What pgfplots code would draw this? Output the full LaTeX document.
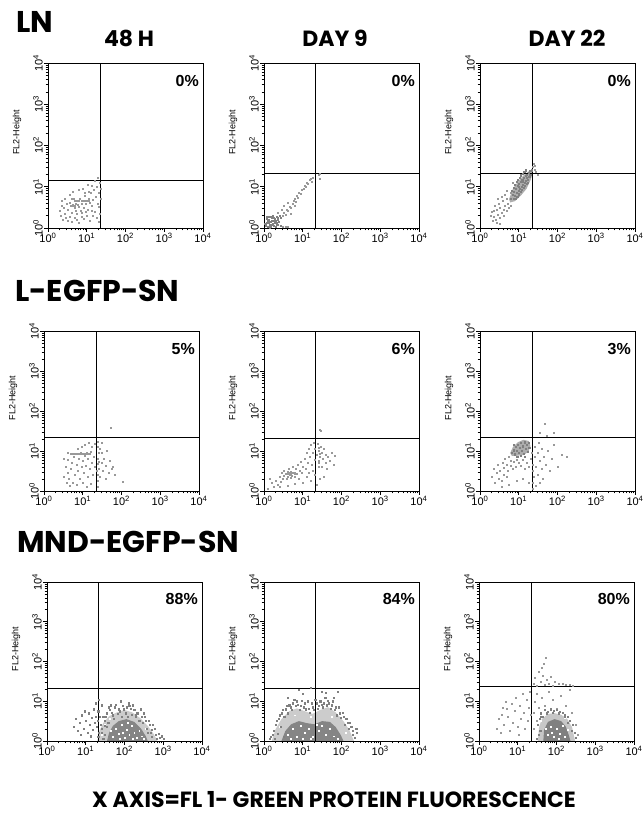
\documentclass[border=0pt]{standalone}
\usepackage{fontspec}
\setmainfont{Liberation Sans}
\newfontfamily\titlefont{Poppins}
\usepackage{pgfplots}
\pgfplotsset{compat=1.18}
\pgfplotsset{
 panel/.style={
  scale only axis, width=155pt, height=#1,
  xmin=0,xmax=4,ymin=0,ymax=4,
  xtick={0,1,2,3,4}, ytick={0,1,2,3,4},
  xticklabels={10\textsuperscript{0},10\textsuperscript{1},10\textsuperscript{2},10\textsuperscript{3},10\textsuperscript{4}},
  yticklabels={10\textsuperscript{0},10\textsuperscript{1},10\textsuperscript{2},10\textsuperscript{3},10\textsuperscript{4}},
  minor xtick={0.301,0.477,0.602,0.699,0.778,0.845,0.903,0.954,1.301,1.477,1.602,1.699,1.778,1.845,1.903,1.954,2.301,2.477,2.602,2.699,2.778,2.845,2.903,2.954,3.301,3.477,3.602,3.699,3.778,3.845,3.903,3.954},
  minor ytick={0.301,0.477,0.602,0.699,0.778,0.845,0.903,0.954,1.301,1.477,1.602,1.699,1.778,1.845,1.903,1.954,2.301,2.477,2.602,2.699,2.778,2.845,2.903,2.954,3.301,3.477,3.602,3.699,3.778,3.845,3.903,3.954},
  tick align=outside, tick pos=left,
  major tick length=4pt, minor tick length=2.5pt,
  tick style={black, line width=0.6pt},
  axis line style={black, line width=0.8pt},
  axis on top,
  ticklabel style={font=\fontsize{11}{12}\selectfont, inner sep=1pt},
  y tick label style={rotate=90, anchor=south},
  ylabel={FL2-Height},
  ylabel style={at={(axis description cs:-0.2,0.58)}, anchor=center, font=\fontsize{9}{10}\selectfont},
  clip=true,
 },
 dots/.style={only marks, mark=square*, mark size=0.5pt, color=black!40, mark options={draw=none}},
 ddots/.style={only marks, mark=square*, mark size=0.55pt, color=black!50, mark options={draw=none}},
 wdots/.style={only marks, mark=square*, mark size=0.45pt, color=white, mark options={draw=none}},
 qline/.style={black, line width=1.1pt, no marks},
}
\tikzset{pct/.style={anchor=north east, inner sep=0pt, font=\bfseries\fontsize{16}{16}\selectfont}}
\newcommand{\ttl}{\titlefont\bfseries\fontsize{30}{30}\selectfont}
\newcommand{\hdr}{\titlefont\bfseries\fontsize{22}{22}\selectfont}
\begin{document}
\begin{tikzpicture}
\useasboundingbox (0,0) rectangle (644pt,818pt);
% titles
\node[anchor=base west, inner sep=0pt, font=\ttl] at (16pt,785pt) {LN};
\node[anchor=base west, inner sep=0pt, font=\ttl] at (15pt,516pt) {L-EGFP-SN};
\node[anchor=base west, inner sep=0pt, font=\ttl] at (17pt,265pt) {MND-EGFP-SN};
\node[anchor=base, inner sep=0pt, font=\hdr] at (129pt,771pt) {48 H};
\node[anchor=base, inner sep=0pt, font=\hdr] at (335pt,771pt) {DAY 9};
\node[anchor=base, inner sep=0pt, font=\hdr] at (567pt,771pt) {DAY 22};
\node[anchor=base, inner sep=0pt, font=\titlefont\bfseries\fontsize{22}{22}\selectfont] at (334pt,10pt) {X AXIS=FL 1- GREEN PROTEIN FLUORESCENCE};

% ---------------- Row 1 ----------------
\begin{axis}[panel=165pt, at={(48pt,755pt)}, anchor=north west]
\addplot[dots, color=black!40] coordinates {(0.50,0.45)(0.55,0.62)(0.60,0.38)(0.63,0.55)(0.66,0.70)(0.70,0.48)(0.72,0.60)(0.75,0.35)(0.78,0.66)(0.80,0.52)(0.83,0.72)(0.85,0.43)(0.88,0.60)(0.90,0.67)(0.92,0.50)(0.95,0.78)(0.97,0.58)(1.00,0.66)(1.02,0.45)(1.05,0.70)(1.07,0.62)(1.10,0.85)(1.12,0.55)(1.15,0.68)(1.18,0.92)(1.20,0.40)(1.22,0.75)(1.25,1.00)(1.28,0.60)(1.30,0.85)(1.32,0.52)(1.33,1.10)
(0.68,0.66)(0.74,0.67)(0.80,0.66)(0.86,0.67)(0.92,0.66)(0.98,0.67)(1.04,0.66)(0.58,0.55)(0.64,0.56)(0.70,0.55)(0.76,0.56)
(0.30,0.42)(0.33,0.30)(0.36,0.55)(0.38,0.20)(0.40,0.48)(0.42,0.35)(0.45,0.25)(0.47,0.60)(0.52,0.18)(0.56,0.28)(0.62,0.15)(0.68,0.25)(0.73,0.20)(0.80,0.12)(0.86,0.28)(0.93,0.22)(1.00,0.30)(1.08,0.18)(1.15,0.30)(1.25,0.25)(1.30,0.15)(0.55,0.80)(0.65,0.88)(0.78,0.92)(0.90,0.95)(1.02,1.05)(1.12,1.02)(1.20,1.15)(1.28,1.22)(0.60,0.72)(0.44,0.70)(0.35,0.65)(1.35,0.70)(1.34,0.35)(1.36,0.95)(0.98,0.40)(0.87,0.36)(1.13,0.42)(0.71,0.42)(0.94,0.85)(1.06,0.88)};
\addplot[qline] coordinates {(1.35,0)(1.35,4)};
\addplot[qline] coordinates {(0,1.15)(4,1.15)};
\node[pct] at (rel axis cs:0.974,0.927) {0\%};
\end{axis}

\begin{axis}[panel=165pt, at={(264pt,755pt)}, anchor=north west]
\addplot[ddots] coordinates {(0.05,0.05)(0.08,0.12)(0.10,0.03)(0.12,0.20)(0.14,0.08)(0.16,0.15)(0.18,0.04)(0.20,0.25)(0.22,0.10)(0.24,0.18)(0.26,0.06)(0.28,0.22)(0.30,0.13)(0.32,0.28)(0.34,0.09)(0.36,0.20)(0.38,0.15)(0.40,0.30)(0.42,0.05)(0.44,0.24)(0.07,0.22)(0.11,0.28)(0.15,0.02)(0.19,0.17)(0.23,0.30)(0.27,0.14)(0.31,0.04)(0.35,0.26)(0.13,0.13)(0.17,0.27)(0.21,0.07)(0.25,0.24)(0.29,0.18)(0.33,0.12)(0.09,0.17)(0.03,0.10)(0.06,0.28)};
\addplot[dots] coordinates {(0.48,0.30)(0.52,0.38)(0.55,0.33)(0.58,0.45)(0.62,0.42)(0.66,0.52)(0.70,0.48)(0.73,0.60)(0.76,0.66)(0.80,0.72)(0.82,0.63)(0.85,0.78)(0.88,0.74)(0.90,0.85)(0.94,0.82)(0.98,0.92)(1.02,0.95)(1.05,1.02)(1.08,1.00)(1.10,1.10)(1.14,1.08)(1.17,1.16)(1.20,1.20)(1.22,1.13)(1.26,1.22)(1.40,1.28)(1.44,1.20)(1.43,1.32)(0.45,0.45)(0.50,0.55)(0.60,0.62)(0.35,0.38)(0.68,0.35)(0.78,0.55)(0.48,0.02)(0.55,0.03)(0.60,0.02)};
\addplot[qline] coordinates {(1.33,0)(1.33,4)};
\addplot[qline] coordinates {(0,1.33)(4,1.33)};
\node[pct] at (rel axis cs:0.974,0.927) {0\%};
\end{axis}

\begin{axis}[panel=165pt, at={(480pt,755pt)}, anchor=north west]
\addplot[fill=black!32, draw=none] coordinates {(0.75,0.70)(0.85,0.95)(1.00,1.15)(1.15,1.30)(1.30,1.40)(1.36,1.32)(1.30,1.15)(1.20,0.95)(1.05,0.78)(0.90,0.65)(0.78,0.62)} -- cycle;
\addplot[ddots] coordinates {(0.80,0.72)(0.84,0.80)(0.86,0.70)(0.88,0.88)(0.90,0.78)(0.93,0.95)(0.95,0.85)(0.97,1.02)(0.99,0.90)(1.01,1.08)(1.03,0.96)(1.05,1.12)(1.07,1.00)(1.09,1.18)(1.11,1.06)(1.13,1.22)(1.15,1.10)(1.17,1.26)(1.19,1.14)(1.21,1.30)(1.23,1.18)(1.25,1.34)(1.27,1.24)(1.29,1.38)(1.31,1.30)(1.33,1.40)(0.92,0.72)(0.96,0.76)(1.00,0.82)(1.04,0.88)(1.08,0.92)(1.12,0.98)(1.16,1.02)(1.20,1.08)(1.24,1.10)(0.82,0.90)(0.86,0.98)(0.90,1.05)(0.94,1.12)(0.98,1.18)(1.02,1.22)(1.06,1.28)(1.10,1.32)(1.14,1.36)(1.18,1.40)(1.00,1.00)(1.10,1.12)(1.20,1.22)(1.28,1.30)};
\addplot[dots] coordinates {(0.30,0.40)(0.35,0.28)(0.38,0.55)(0.40,0.20)(0.42,0.45)(0.45,0.32)(0.48,0.60)(0.50,0.25)(0.52,0.50)(0.55,0.38)(0.58,0.65)(0.60,0.45)(0.62,0.30)(0.65,0.55)(0.68,0.70)(0.70,0.42)(0.72,0.60)(0.75,0.50)(0.78,0.85)(0.80,0.55)(0.65,0.80)(0.55,0.75)(0.45,0.70)(0.35,0.42)(0.28,0.30)(0.33,0.18)(0.42,0.14)(0.50,0.10)(0.70,0.90)(0.85,1.10)(1.40,1.50)(1.42,1.42)(1.45,1.36)(1.38,1.55)(1.35,1.48)(1.50,1.30)};
\addplot[qline] coordinates {(1.36,0)(1.36,4)};
\addplot[qline] coordinates {(0,1.33)(4,1.33)};
\node[pct] at (rel axis cs:0.974,0.927) {0\%};
\end{axis}

% ---------------- Row 2 ----------------
\begin{axis}[panel=160pt, at={(44pt,487pt)}, anchor=north west]
\addplot[dots] coordinates {(0.55,0.60)(0.60,0.45)(0.62,0.78)(0.65,0.30)(0.68,0.92)(0.70,0.55)(0.72,0.70)(0.75,0.20)(0.77,0.85)(0.80,0.40)(0.82,0.92)(0.84,0.65)(0.86,1.05)(0.88,0.50)(0.90,0.80)(0.92,0.30)(0.94,0.95)(0.96,0.60)(0.98,1.10)(1.00,0.75)(1.02,0.45)(1.04,0.88)(1.06,1.15)(1.08,0.62)(1.10,0.95)(1.12,0.35)(1.14,0.80)(1.16,1.20)(1.18,0.55)(1.20,0.98)(1.22,0.70)(1.24,1.10)(1.26,0.40)(1.28,0.85)(1.30,1.18)(1.32,0.60)
(0.73,0.92)(0.78,0.93)(0.83,0.92)(0.88,0.93)(0.93,0.92)(0.98,0.93)(1.03,0.92)(1.08,0.93)(1.13,0.92)(1.18,0.93)
(1.38,0.10)(1.39,0.25)(1.38,0.40)(1.40,0.55)(1.38,0.68)(1.39,0.80)(1.40,0.95)(1.38,1.10)(1.39,1.22)(1.40,0.72)(1.37,0.50)
(1.45,0.35)(1.48,0.70)(1.50,0.95)(1.52,0.50)(1.55,0.80)(1.58,0.30)(1.60,0.62)(1.63,1.00)(1.66,0.45)(1.70,0.75)(1.74,0.55)(1.78,0.60)(1.82,0.40)(1.72,1.58)(2.03,0.22)(1.50,1.20)(1.44,1.05)
(0.52,0.35)(0.58,0.20)(0.66,0.12)(0.85,0.15)(1.00,0.20)(1.10,0.10)(1.20,0.18)(0.50,0.80)(0.60,0.95)};
\addplot[qline] coordinates {(1.35,0)(1.35,4)};
\addplot[qline] coordinates {(0,1.33)(4,1.33)};
\node[pct] at (rel axis cs:0.974,0.927) {5\%};
\end{axis}

\begin{axis}[panel=160pt, at={(264pt,487pt)}, anchor=north west]
\addplot[dots] coordinates {(0.10,0.06)(0.25,0.10)(0.30,0.25)(0.35,0.15)(0.40,0.35)(0.42,0.22)(0.45,0.45)(0.48,0.30)(0.50,0.50)(0.52,0.38)(0.55,0.42)(0.58,0.30)(0.60,0.48)(0.62,0.36)(0.64,0.55)(0.66,0.40)(0.68,0.33)(0.70,0.48)(0.72,0.38)(0.75,0.60)(0.78,0.45)(0.80,0.35)(0.82,0.55)(0.85,0.42)(0.88,0.65)(0.90,0.30)(0.92,0.50)(0.95,0.72)(0.98,0.45)(1.00,0.60)
(0.55,0.44)(0.60,0.44)(0.65,0.45)(0.70,0.44)(0.75,0.45)(0.80,0.44)
(1.05,0.80)(1.08,0.55)(1.10,0.95)(1.12,0.70)(1.15,1.05)(1.18,0.85)(1.20,1.15)(1.22,0.65)(1.25,0.95)(1.28,1.20)(1.30,0.78)(1.32,1.05)(1.35,0.90)(1.38,1.18)(1.40,0.70)(1.42,1.00)(1.44,0.85)(1.46,1.10)(1.48,0.60)(1.50,0.95)(1.52,0.80)(1.55,1.05)(1.58,0.70)(1.60,0.90)(1.62,0.55)(1.65,0.85)(1.70,0.75)(1.75,0.95)(1.80,0.65)(1.82,0.88)(1.43,1.54)(1.46,1.50)
(1.00,0.20)(1.10,0.35)(1.20,0.25)(1.30,0.40)(1.35,0.15)(1.45,0.30)(1.55,0.35)(0.40,0.10)(0.60,0.12)(0.80,0.18)(0.20,0.20)(0.15,0.30)(1.25,0.50)(1.15,0.45)
(1.41,0.60)(1.42,0.75)(1.43,0.92)(1.41,1.08)};
\addplot[qline] coordinates {(1.34,0)(1.34,4)};
\addplot[qline] coordinates {(0,1.32)(4,1.32)};
\node[pct] at (rel axis cs:0.974,0.927) {6\%};
\end{axis}

\begin{axis}[panel=160pt, at={(480pt,487pt)}, anchor=north west]
\addplot[fill=black!32, draw=none] coordinates {(0.78,0.95)(0.85,1.10)(0.98,1.22)(1.12,1.28)(1.26,1.25)(1.30,1.12)(1.25,0.98)(1.12,0.90)(0.95,0.88)(0.82,0.88)} -- cycle;
\addplot[ddots] coordinates {(0.82,0.95)(0.86,1.02)(0.90,0.92)(0.92,1.10)(0.95,1.00)(0.98,1.15)(1.00,0.95)(1.02,1.08)(1.05,1.20)(1.08,1.00)(1.10,1.12)(1.12,0.94)(1.15,1.22)(1.18,1.05)(1.20,1.15)(1.22,0.98)(1.25,1.20)(1.27,1.08)(0.88,1.15)(0.96,0.85)(1.06,0.88)(1.16,0.86)};
\addplot[dots] coordinates {(0.30,0.35)(0.35,0.55)(0.38,0.20)(0.42,0.45)(0.45,0.65)(0.48,0.30)(0.50,0.50)(0.55,0.25)(0.58,0.70)(0.60,0.40)(0.62,0.58)(0.65,0.80)(0.68,0.35)(0.70,0.65)(0.72,0.50)(0.75,0.85)(0.78,0.62)(0.80,0.75)(0.85,0.55)(0.88,0.72)(0.92,0.60)(0.95,0.78)(1.00,0.70)(1.05,0.62)(1.10,0.78)(1.15,0.55)(1.20,0.70)(1.25,0.60)(1.30,0.80)(1.33,0.95)(1.35,0.65)
(1.40,0.85)(1.42,1.10)(1.45,0.60)(1.48,0.95)(1.50,0.40)(1.52,1.20)(1.55,0.75)(1.58,0.55)(1.60,1.05)(1.62,0.30)(1.65,0.85)(1.70,0.65)(1.75,1.00)(1.80,0.50)(1.85,0.80)(1.90,1.15)(2.00,0.60)(2.10,0.90)(2.23,0.85)(1.68,1.68)(1.90,1.46)(1.72,1.38)(1.55,1.45)
(1.37,0.05)(1.37,0.20)(1.38,0.35)(1.37,0.50)(0.55,0.10)(0.75,0.15)(0.95,0.25)(1.10,0.30)(1.25,0.20)(1.45,0.12)(1.55,0.20)};
\addplot[qline] coordinates {(1.36,0)(1.36,4)};
\addplot[qline] coordinates {(0,1.34)(4,1.34)};
\node[pct] at (rel axis cs:0.974,0.927) {3\%};
\end{axis}

% ---------------- Row 3 ----------------
\begin{axis}[panel=159pt, at={(47pt,236pt)}, anchor=north west]
\addplot[fill=black!20, draw=none] coordinates {(1.30,0)(1.35,0.25)(1.45,0.45)(1.60,0.62)(1.80,0.72)(2.00,0.78)(2.20,0.72)(2.40,0.58)(2.60,0.38)(2.75,0.18)(2.85,0)} -- cycle;
\addplot[fill=black!48, draw=none] coordinates {(1.55,0)(1.60,0.20)(1.70,0.38)(1.85,0.50)(2.05,0.55)(2.25,0.48)(2.42,0.32)(2.55,0.12)(2.60,0)} -- cycle;
\addplot[wdots] coordinates {(1.70,0.10)(1.78,0.30)(1.85,0.18)(1.92,0.40)(2.00,0.08)(2.05,0.28)(2.12,0.15)(2.18,0.38)(2.25,0.22)(2.32,0.08)(2.38,0.25)(2.45,0.12)(1.95,0.22)(2.22,0.05)(1.65,0.25)(2.08,0.45)(2.50,0.05)(1.88,0.05)(1.50,0.40)(1.62,0.55)(2.30,0.60)(2.55,0.30)(1.40,0.15)};
\addplot[ddots] coordinates {(0.70,0.35)(0.75,0.55)(0.80,0.25)(0.85,0.45)(0.90,0.65)(0.95,0.30)(1.00,0.50)(1.05,0.20)(1.08,0.70)(1.10,0.40)(1.15,0.58)(1.18,0.28)(1.20,0.80)(1.22,0.45)(1.25,0.62)(1.28,0.35)(1.30,0.52)(1.32,0.75)(1.34,0.22)(1.36,0.60)(1.38,0.40)(1.40,0.90)(0.98,0.75)(0.88,0.15)(1.12,0.12)(1.26,0.95)(1.33,1.05)
(1.40,0.30)(1.45,0.60)(1.50,0.50)(1.55,0.70)(1.62,0.78)(1.70,0.65)(1.75,0.85)(1.85,0.80)(1.95,0.88)(2.05,0.85)(2.15,0.82)(2.25,0.78)(2.35,0.70)(2.45,0.62)(2.55,0.50)(2.65,0.40)(2.70,0.28)(2.80,0.15)(2.90,0.08)(1.50,0.15)(2.30,0.65)(2.10,0.95)(1.90,1.00)(2.50,0.70)(1.65,0.90)
(1.32,0.10)(1.38,0.42)(1.42,0.20)(1.48,0.38)(1.52,0.62)(1.58,0.45)(1.60,0.85)(1.68,0.72)(1.72,0.55)(1.78,0.92)(1.82,0.68)(1.88,0.75)(1.92,0.62)(1.98,0.80)(2.02,0.70)(2.08,0.62)(2.12,0.88)(2.18,0.66)(2.22,0.90)(2.28,0.60)(2.32,0.72)(2.38,0.52)(2.42,0.80)(2.48,0.45)(2.52,0.60)(2.58,0.30)(2.62,0.52)(2.68,0.20)(2.72,0.42)(2.78,0.30)(2.82,0.05)(2.88,0.18)(2.95,0.12)(3.00,0.05)(1.45,0.05)(1.55,0.35)(2.60,0.22)(2.70,0.10)};
\addplot[qline] coordinates {(1.34,0)(1.34,4)};
\addplot[qline] coordinates {(0,1.33)(4,1.33)};
\node[pct] at (rel axis cs:0.974,0.927) {88\%};
\end{axis}

\begin{axis}[panel=159pt, at={(264pt,236pt)}, anchor=north west]
\addplot[fill=black!20, draw=none] coordinates {(0.20,0)(0.30,0.30)(0.45,0.55)(0.65,0.75)(0.85,0.82)(1.05,0.75)(1.25,0.68)(1.45,0.78)(1.65,0.85)(1.85,0.72)(2.05,0.50)(2.20,0.28)(2.32,0)} -- cycle;
\addplot[fill=black!48, draw=none] coordinates {(0.45,0)(0.55,0.25)(0.70,0.42)(0.90,0.50)(1.10,0.45)(1.30,0.42)(1.50,0.50)(1.70,0.48)(1.85,0.35)(1.98,0.15)(2.05,0)} -- cycle;
\addplot[wdots] coordinates {(0.60,0.15)(0.75,0.30)(0.85,0.10)(0.95,0.38)(1.05,0.20)(1.15,0.32)(1.25,0.10)(1.40,0.25)(1.50,0.38)(1.60,0.15)(1.70,0.30)(1.80,0.12)(1.90,0.05)(0.68,0.05)(1.00,0.05)(1.35,0.40)(1.20,0.05)(0.40,0.35)(0.80,0.65)(1.20,0.60)(1.75,0.62)(2.10,0.20)};
\addplot[ddots] coordinates {(0.22,0.15)(0.30,0.40)(0.38,0.55)(0.45,0.70)(0.55,0.80)(0.65,0.90)(0.75,0.95)(0.85,1.00)(0.95,0.88)(1.05,0.95)(1.15,0.82)(1.25,0.85)(1.35,0.95)(1.45,1.00)(1.55,0.95)(1.65,1.02)(1.75,0.90)(1.85,0.85)(1.95,0.70)(2.05,0.62)(2.15,0.45)(2.25,0.35)(2.30,0.15)(0.60,1.10)(1.00,1.20)(1.50,1.25)(1.80,1.10)(2.40,0.20)(0.15,0.05)(0.90,1.30)(1.20,1.35)(1.60,1.22)(1.90,1.25)
(0.18,0.10)(0.25,0.25)(0.28,0.05)(0.32,0.50)(0.35,0.18)(0.40,0.65)(0.42,0.35)(0.48,0.78)(0.52,0.60)(0.58,0.88)(0.62,0.70)(0.68,0.85)(0.72,0.78)(0.78,1.05)(0.82,0.88)(0.88,0.92)(0.92,0.78)(0.98,1.02)(1.02,0.85)(1.08,0.80)(1.12,1.00)(1.18,0.72)(1.22,0.95)(1.28,0.78)(1.32,1.05)(1.38,0.82)(1.42,0.88)(1.48,0.92)(1.52,0.85)(1.58,1.10)(1.62,0.90)(1.68,0.95)(1.72,0.82)(1.78,1.00)(1.82,0.78)(1.88,0.65)(1.92,0.85)(1.98,0.58)(2.02,0.72)(2.08,0.40)(2.12,0.55)(2.18,0.30)(2.22,0.45)(2.28,0.25)(2.35,0.08)(2.38,0.30)(0.50,0.10)};
\addplot[qline] coordinates {(1.34,0)(1.34,4)};
\addplot[qline] coordinates {(0,1.33)(4,1.33)};
\node[pct] at (rel axis cs:0.974,0.927) {84\%};
\end{axis}

\begin{axis}[panel=159pt, at={(479pt,236pt)}, anchor=north west]
\addplot[fill=black!22, draw=none] coordinates {(1.52,0)(1.55,0.35)(1.62,0.55)(1.78,0.68)(1.95,0.70)(2.12,0.66)(2.28,0.55)(2.40,0.35)(2.48,0)} -- cycle;
\addplot[fill=black!50, draw=none] coordinates {(1.66,0)(1.68,0.28)(1.78,0.48)(1.95,0.55)(2.12,0.50)(2.24,0.36)(2.32,0.14)(2.36,0)} -- cycle;
\addplot[wdots] coordinates {(1.78,0.15)(1.85,0.35)(1.92,0.10)(2.00,0.30)(2.08,0.18)(2.15,0.38)(2.22,0.10)(1.88,0.22)(2.05,0.05)(1.72,0.32)(2.28,0.28)(1.60,0.50)(2.20,0.58)};
\addplot[dots] coordinates {(0.45,0.30)(0.50,0.55)(0.55,0.20)(0.60,0.85)(0.65,0.40)(0.70,1.00)(0.75,0.60)(0.80,0.25)(0.85,0.95)(0.88,0.45)(0.92,0.75)(0.95,1.10)(1.00,0.35)(1.05,0.90)(1.08,0.55)(1.12,1.20)(1.15,0.70)(1.18,0.30)(1.22,1.05)(1.25,0.50)(1.28,0.85)(1.30,1.25)(1.33,0.65)(0.58,0.65)(0.72,0.80)(1.02,0.15)
(1.40,1.45)(1.45,1.60)(1.50,1.40)(1.55,1.75)(1.60,1.50)(1.65,1.65)(1.70,1.42)(1.72,2.10)(1.75,1.55)(1.80,1.45)(1.85,1.62)(1.90,1.40)(1.95,1.50)(2.05,1.43)(2.15,1.45)(2.25,1.41)(2.35,1.42)(2.42,1.40)(1.62,1.85)(1.68,1.95)
(1.40,0.70)(1.45,1.00)(1.50,1.20)(1.55,0.85)(1.62,1.10)(1.70,0.90)(1.80,1.25)(1.90,1.05)(2.00,0.80)(2.10,1.15)(2.25,0.90)(2.40,0.70)(2.50,0.40)(2.55,0.15)(1.42,0.30)(1.48,0.50)(2.35,1.30)};
\addplot[ddots] coordinates {(1.60,0.60)(1.75,0.70)(1.90,0.72)(2.05,0.70)(2.20,0.60)(2.30,0.45)(2.40,0.25)(1.55,0.15)(1.50,0.05)(1.52,0.40)(1.56,0.55)(1.60,0.70)(1.65,0.62)(1.70,0.78)(1.78,0.74)(1.85,0.80)(1.92,0.76)(2.00,0.78)(2.08,0.74)(2.15,0.72)(2.22,0.66)(2.28,0.62)(2.35,0.52)(2.42,0.40)(2.46,0.22)(2.50,0.08)(1.58,0.25)};
\addplot[qline] coordinates {(1.36,0)(1.36,4)};
\addplot[qline] coordinates {(0,1.36)(4,1.36)};
\node[pct] at (rel axis cs:0.974,0.927) {80\%};
\end{axis}
\end{tikzpicture}
\end{document}
